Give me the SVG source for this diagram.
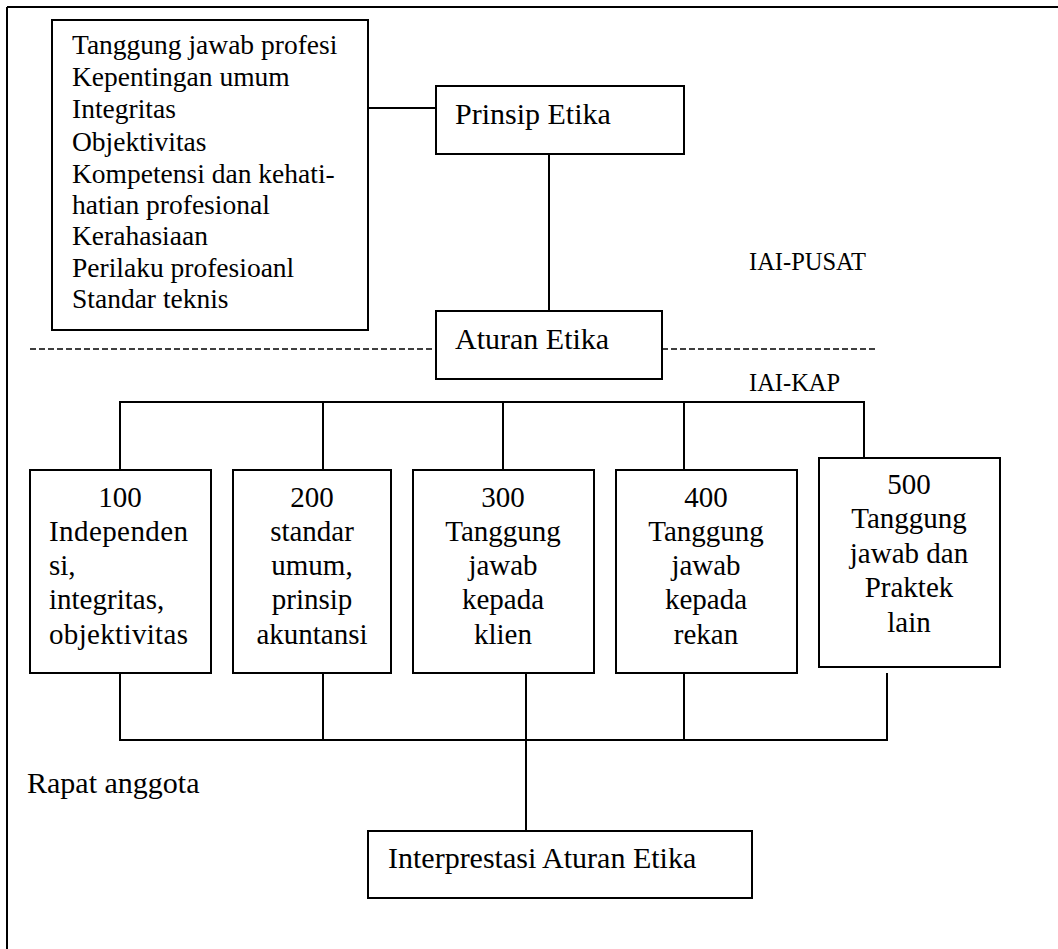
<svg xmlns="http://www.w3.org/2000/svg" width="1058" height="949" viewBox="0 0 1058 949">
<style>
.box{fill:#fff;stroke:#000;stroke-width:2}
.ln{fill:none;stroke:#000;stroke-width:2}
.dash{fill:none;stroke:#000;stroke-width:1.5;stroke-dasharray:6 3}
text{font-family:"Liberation Serif","Times New Roman",serif;fill:#000}
.lst{font-size:27.5px}
.big{font-size:30px}
.bx{font-size:29px}
.rp{font-size:30px}
.mid{text-anchor:middle}
.sm{font-size:24.5px}
</style>
<rect width="1058" height="949" fill="#fff"/>
<g id="frame">
<path class="ln" d="M7,7 H1058 M7,7 V949"/>
</g>
<g id="connectors">
<path class="ln" d="M368,108 H436"/>
<path class="ln" d="M549,154 V311"/>
<path class="dash" d="M30,349 H436 M662,349 H877"/>
<path class="ln" d="M120,470 V402 H864 V458 M323,402 V470 M503,402 V470 M684,402 V470"/>
<path class="ln" d="M120,673 V740 H887 V673 M323,673 V740 M526,673 V831 M684,673 V740"/>
</g>
<g id="principles-list">
<rect class="box" x="52" y="20" width="316" height="310"/>
<text class="lst" x="72" y="54">Tanggung jawab profesi</text>
<text class="lst" x="72" y="86">Kepentingan umum</text>
<text class="lst" x="72" y="118">Integritas</text>
<text class="lst" x="72" y="151">Objektivitas</text>
<text class="lst" x="72" y="183">Kompetensi dan kehati-</text>
<text class="lst" x="72" y="214">hatian profesional</text>
<text class="lst" x="72" y="245">Kerahasiaan</text>
<text class="lst" x="72" y="277">Perilaku profesioanl</text>
<text class="lst" x="72" y="308">Standar teknis</text>
</g>
<g id="prinsip-etika">
<rect class="box" x="436" y="86" width="248" height="68"/>
<text class="big" x="455" y="124">Prinsip Etika</text>
</g>
<g id="aturan-etika">
<rect class="box" x="436" y="311" width="226" height="68"/>
<text class="big" x="455" y="349">Aturan Etika</text>
</g>
<g id="label-pusat"><text class="sm" x="749" y="270">IAI-PUSAT</text></g>
<g id="label-kap"><text class="sm" x="749" y="391">IAI-KAP</text></g>
<g id="box-100">
<rect class="box" x="30" y="470" width="181" height="203"/>
<text class="bx mid" x="120" y="507">100</text>
<text class="bx" x="49" y="541" textLength="139">Independen</text>
<text class="bx" x="49" y="575">si,</text>
<text class="bx" x="49" y="609">integritas,</text>
<text class="bx" x="49" y="644" textLength="139">objektivitas</text>
</g>
<g id="box-200">
<rect class="box" x="233" y="470" width="158" height="203"/>
<text class="bx mid" x="312" y="507">200</text>
<text class="bx mid" x="312" y="541">standar</text>
<text class="bx mid" x="312" y="575">umum,</text>
<text class="bx mid" x="312" y="609">prinsip</text>
<text class="bx mid" x="312" y="644">akuntansi</text>
</g>
<g id="box-300">
<rect class="box" x="413" y="470" width="181" height="203"/>
<text class="bx mid" x="503" y="507">300</text>
<text class="bx mid" x="503" y="541">Tanggung</text>
<text class="bx mid" x="503" y="575">jawab</text>
<text class="bx mid" x="503" y="609">kepada</text>
<text class="bx mid" x="503" y="644">klien</text>
</g>
<g id="box-400">
<rect class="box" x="616" y="470" width="181" height="203"/>
<text class="bx mid" x="706" y="507">400</text>
<text class="bx mid" x="706" y="541">Tanggung</text>
<text class="bx mid" x="706" y="575">jawab</text>
<text class="bx mid" x="706" y="609">kepada</text>
<text class="bx mid" x="706" y="644">rekan</text>
</g>
<g id="box-500">
<rect class="box" x="819" y="458" width="181" height="209"/>
<text class="bx mid" x="909" y="494">500</text>
<text class="bx mid" x="909" y="528">Tanggung</text>
<text class="bx mid" x="909" y="563">jawab dan</text>
<text class="bx mid" x="909" y="597">Praktek</text>
<text class="bx mid" x="909" y="632">lain</text>
</g>
<g id="label-rapat"><text class="rp" x="27" y="793">Rapat anggota</text></g>
<g id="interprestasi">
<rect class="box" x="368" y="831" width="384" height="67"/>
<text class="big" x="388" y="868">Interprestasi Aturan Etika</text>
</g>
</svg>
